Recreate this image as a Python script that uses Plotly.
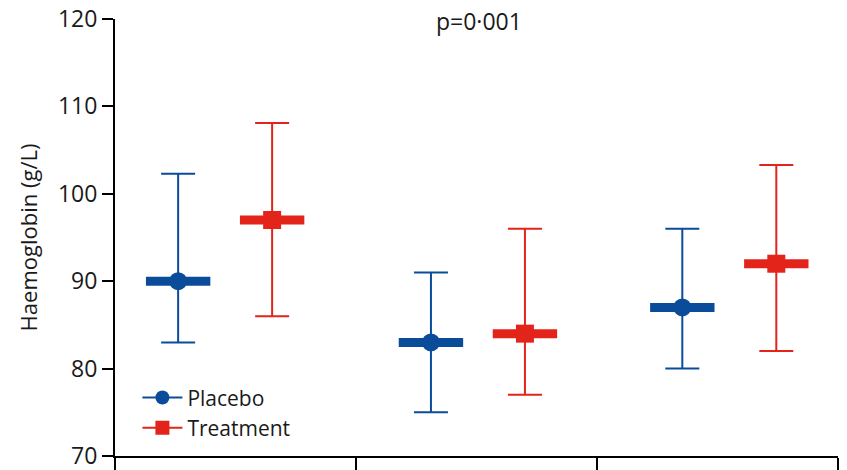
import plotly.graph_objects as go

# ---- data ----
timepoints = ["Timepoint 1", "Timepoint 2", "Timepoint 3"]
placebo_mean = [90.0, 83.0, 87.0]
placebo_low = [83.0, 75.0, 80.0]
placebo_high = [102.3, 91.0, 96.0]
treatment_mean = [97.0, 84.0, 92.0]
treatment_low = [86.0, 77.0, 82.0]
treatment_high = [108.1, 96.0, 103.3]
y_ticks = [70, 80, 90, 100, 110, 120]
p_text = "p=0\u00b7001"

# ---- layout helpers ----
BLUE = "#0B4C9A"
RED = "#E3241B"
FONT = "Open Sans"
TXT = "#1a1a1a"
pair_center = [0.457, 1.506, 2.549]
half_gap = 0.195
x_pl = [c - half_gap for c in pair_center]
x_tr = [c + half_gap for c in pair_center]

fig = go.Figure()

def add_series(xs, mean, low, high, color, symbol, msize, name):
    # thick horizontal mean bar (line-ew length = 1.4 * size)
    fig.add_trace(go.Scatter(
        x=xs, y=mean, mode="markers", showlegend=False, hoverinfo="skip",
        marker=dict(symbol="line-ew", size=46, line=dict(width=9, color=color), color=color),
    ))
    # point + error bars
    fig.add_trace(go.Scatter(
        x=xs, y=mean, mode="markers", showlegend=False, name=name,
        customdata=timepoints,
        marker=dict(symbol=symbol, size=msize, color=color, line=dict(width=0)),
        error_y=dict(type="data", symmetric=False,
                     array=[h - m for h, m in zip(high, mean)],
                     arrayminus=[m - l for m, l in zip(mean, low)],
                     color=color, thickness=2, width=17),
    ))
    # legend entry
    fig.add_trace(go.Scatter(
        x=[None], y=[None], mode="lines+markers", name=name,
        line=dict(color=color, width=2),
        marker=dict(symbol=symbol, size=14, color=color),
    ))

add_series(x_pl, placebo_mean, placebo_low, placebo_high, BLUE, "circle", 18, "Placebo")
add_series(x_tr, treatment_mean, treatment_low, treatment_high, RED, "square", 18, "Treatment")

fig.add_annotation(x=0.504, y=0.995, xref="paper", yref="paper", text=p_text,
                   showarrow=False, xanchor="center", yanchor="middle",
                   font=dict(family=FONT, size=23, color=TXT))

fig.update_layout(
    width=847, height=470,
    margin=dict(l=115, r=9, t=19, b=14),
    paper_bgcolor="white", plot_bgcolor="white",
    font=dict(family=FONT, color=TXT),
    showlegend=True,
    legend=dict(x=0.031, y=0.18, xanchor="left", yanchor="top",
                font=dict(family=FONT, size=21, color=TXT), itemwidth=40,
                bgcolor="rgba(0,0,0,0)", tracegroupgap=0),
    xaxis=dict(range=[0, 3], tickvals=[0, 1, 2, 3], ticktext=["", "", "", ""],
               showgrid=False, zeroline=False, showline=True, linecolor="black",
               linewidth=2, ticks="outside", ticklen=14, tickwidth=2, tickcolor="black",
               automargin=False, fixedrange=True),
    yaxis=dict(range=[70, 120], tickvals=y_ticks, showgrid=False, zeroline=False,
               showline=True, linecolor="black", linewidth=2, ticks="outside",
               ticklen=11, tickwidth=2, tickcolor="black", automargin=False,
               ticklabeloverflow="allow",
               tickfont=dict(family=FONT, size=23, color=TXT),
               title=dict(text="Haemoglobin (g/L)", font=dict(family=FONT, size=22, color=TXT),
                          standoff=14)),
)

# remove the browser's default 8px body margin so the figure fills the window
fig.write_html("out.html", config={"displayModeBar": False},
               post_script="document.body.style.margin='0';")
